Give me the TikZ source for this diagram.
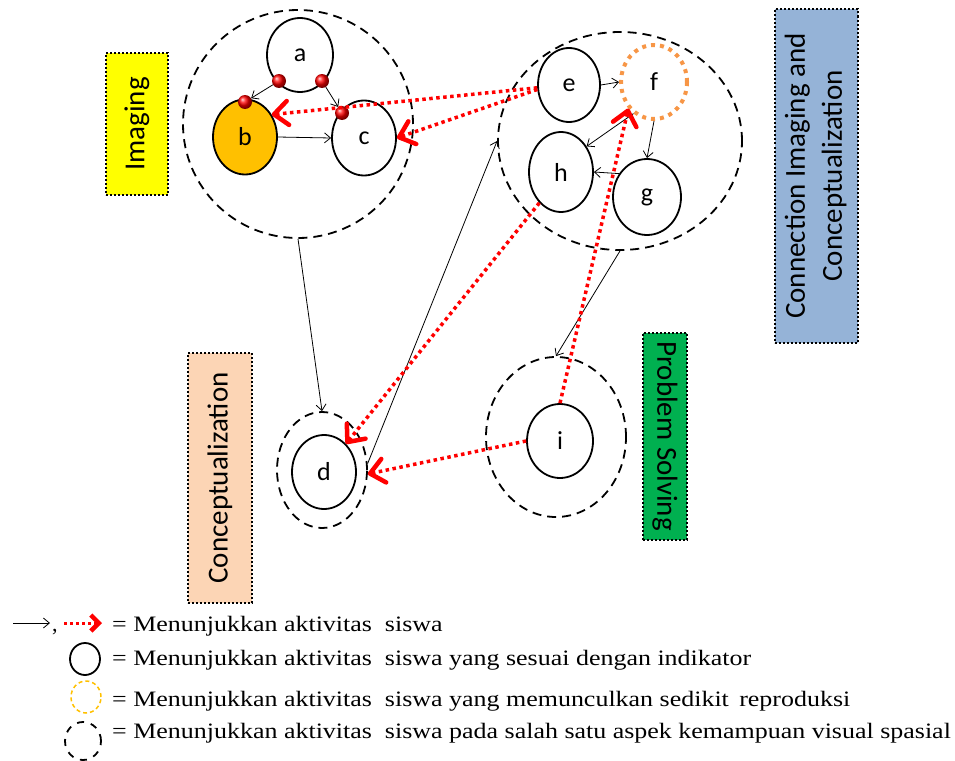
\documentclass[tikz,border=0pt]{standalone}
\usepackage{fontspec}
\setmainfont{Liberation Serif}
\newfontfamily\calfont{Carlito}
\usetikzlibrary{shapes.geometric,arrows.meta}
\definecolor{imgyellow}{HTML}{FFFF00}
\definecolor{conblue}{HTML}{95B3D7}
\definecolor{conpeach}{HTML}{FCD5B5}
\definecolor{probgreen}{HTML}{00B050}
\definecolor{borange}{HTML}{FFC000}
\definecolor{forange}{HTML}{F79646}
\definecolor{redline}{HTML}{FF0000}
\begin{document}
\begin{tikzpicture}[x=1pt,y=-1pt,
  obj/.style={ellipse, draw, line width=1.8pt, inner sep=0pt,
    font=\calfont\fontsize{26}{30}\selectfont},
  grp/.style={ellipse, draw, line width=1.8pt, dash pattern=on 9pt off 6pt, inner sep=0pt},
  lbl/.style={draw, line width=2pt, dash pattern=on 2pt off 2pt, inner sep=0pt,
    font=\calfont\fontsize{29}{37}\selectfont},
  blk/.style={line width=0.8pt, -{Straight Barb[length=6pt,width=10pt]}},
  redarr/.style={draw=redline, line width=3.5pt, dash pattern=on 3.5pt off 3.5pt,
    -{Straight Barb[length=14pt,width=24pt,line width=4.5pt,round]}},
  reddot/.style={circle, inner sep=0pt, minimum size=14pt, shading=ball, ball color=redline},
  legtxt/.style={anchor=base west, inner sep=0pt, font=\rmfamily\fontsize{22}{26}\selectfont}
]
\useasboundingbox (0,0) rectangle (955,760);

% labels
\node[lbl, fill=imgyellow, minimum width=62pt, minimum height=142pt] (limg) at (137,124) {\rotatebox{90}{\calfont Imaging}};
\node[lbl, fill=conblue, minimum width=83pt, minimum height=333pt] (lcon) at (816,176)
  {\rotatebox{90}{\calfont\begin{tabular}{@{}c@{}}Connection Imaging and\\Conceptualization\end{tabular}}};
\node[lbl, fill=conpeach, minimum width=64pt, minimum height=250pt] (lcept) at (220,478) {\rotatebox{90}{\calfont Conceptualization}};
\node[lbl, fill=probgreen, minimum width=44pt, minimum height=207pt] (lprob) at (665,436) {\rotatebox{-90}{\calfont Problem Solving}};

% groups
\node[grp, minimum width=230pt, minimum height=228pt] (G1) at (298,124) {};
\node[grp, minimum width=244pt, minimum height=218pt] (G2) at (620,141) {};
\node[grp, minimum width=90pt, minimum height=116pt] (G3) at (322,470) {};
\node[grp, minimum width=140pt, minimum height=160pt] (G4) at (556,437) {};

% objects
\node[obj, minimum width=66pt, minimum height=74pt] (a) at (300,55) {a};
\node[obj, fill=borange, minimum width=64pt, minimum height=75pt] (b) at (245,137) {b};
\node[obj, minimum width=64pt, minimum height=75pt] (c) at (364,138) {c};
\node[obj, minimum width=62pt, minimum height=74pt] (e) at (569,85) {e};
\node[obj, draw=forange, line width=4pt, dash pattern=on 4pt off 5pt, minimum width=66pt, minimum height=74pt] (f) at (654,82) {f};
\node[obj, minimum width=64pt, minimum height=80pt] (h) at (561,172) {h};
\node[obj, minimum width=68pt, minimum height=76pt] (g) at (647,197) {g};
\node[obj, minimum width=64pt, minimum height=74pt] (d) at (324,472) {d};
\node[obj, minimum width=66pt, minimum height=74pt] (i) at (560,441) {i};

% red dots
\node[reddot] (da1) at (279,81) {};
\node[reddot] (da2) at (322,81) {};
\node[reddot] (db) at (245,102) {};
\node[reddot] (dc) at (342,113) {};

% black arrows
\draw[blk] (da1) -- (db);
\draw[blk] (da2) -- (dc);
\draw[blk] (b.east) -- (c.west);
\draw[blk] (e.east) -- (f.west);
\draw[blk] (f.237) -- (h.45);
\draw[blk] (f.south) -- (g.north);
\draw[blk] (g.140) -- (h.east);
\draw[blk] (G1.south) -- (G3.north);
\draw[blk] (G3.8) -- (G2.west);
\draw[blk] (G2.south) -- (G4.north);

% red arrows
\draw[redarr] (e.185) -- (b.40);
\draw[redarr] (e.188) -- (c.east);
\draw[redarr] (h.235) -- (d.52);
\draw[redarr] (i.north) -- (f.226);
\draw[redarr] (i.west) -- (G3.355);

% legend
\coordinate (la1) at (13,623);
\coordinate (la2) at (50,623);
\draw[blk] (la1) -- (la2);
\node[legtxt] (comma) at (52,631) {,};
\coordinate (lr1) at (64,623);
\coordinate (lr2) at (102,623);
\draw[draw=redline, line width=3pt, dash pattern=on 3pt off 3pt, -{Straight Barb[length=8pt,width=16pt,line width=4.5pt]}] (lr1) -- (lr2);
\node[legtxt] (t1) at (112,631) {\scalebox{1.18}[1]{= Menunjukkan aktivitas\hspace{0.5em}siswa}};
\node[ellipse, draw, line width=1.8pt, inner sep=0pt, minimum width=30pt, minimum height=32pt] (lc1) at (85,659) {};
\node[legtxt] (t2) at (112,665) {\scalebox{1.18}[1]{= Menunjukkan aktivitas\hspace{0.5em}siswa yang sesuai dengan indikator}};
\node[ellipse, draw=borange, line width=1.5pt, dash pattern=on 4pt off 3pt, inner sep=0pt, minimum width=30pt, minimum height=32pt] (lc2) at (86,697) {};
\node[legtxt] (t3) at (112,706) {\scalebox{1.18}[1]{= Menunjukkan aktivitas\hspace{0.5em}siswa yang memunculkan sedikit\hspace{0.4em}reproduksi}};
\node[ellipse, draw, line width=1.8pt, dash pattern=on 7pt off 7pt, inner sep=0pt, minimum width=36pt, minimum height=38pt] (lc3) at (83,741) {};
\node[legtxt] (t4) at (112,738) {\scalebox{1.18}[1]{= Menunjukkan aktivitas\hspace{0.5em}siswa pada salah satu aspek kemampuan visual spasial}};
\end{tikzpicture}
\end{document}
